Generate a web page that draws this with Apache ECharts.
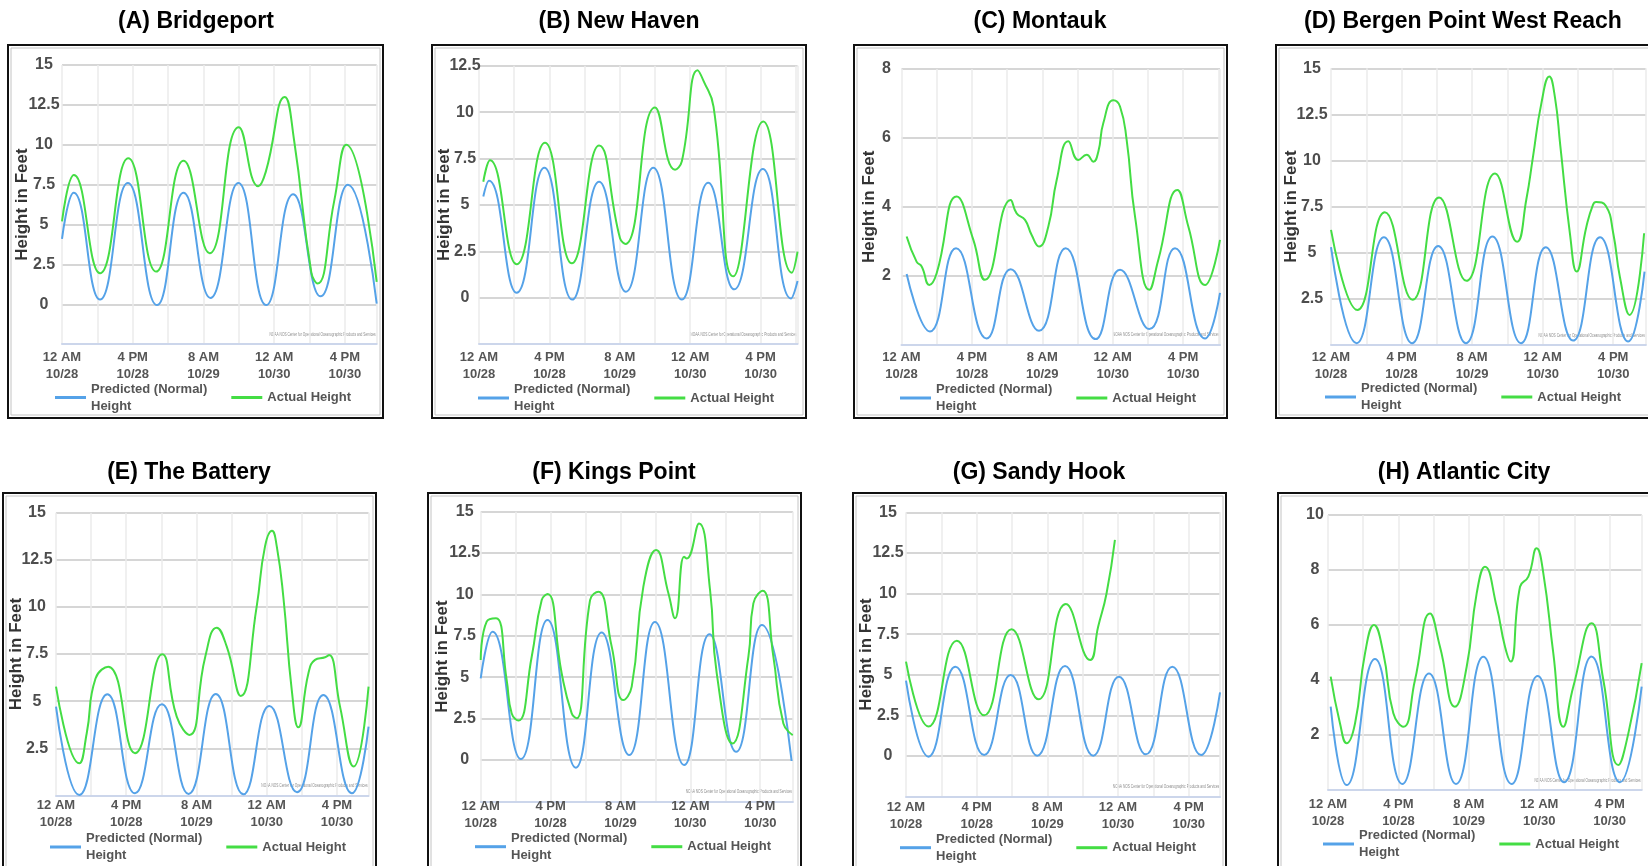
<!DOCTYPE html>
<html>
<head>
<meta charset="utf-8">
<script src="https://cdn.jsdelivr.net/npm/echarts@6/dist/echarts.min.js"></script>
<style>
html,body{margin:0;padding:0;background:#fff;}
#c{width:1648px;height:866px;}
</style>
</head>
<body>
<div id="c"></div>
<script>
// ---------------- DATA ----------------
const stationTitles = ['(A) Bridgeport', '(B) New Haven', '(C) Montauk', '(D) Bergen Point West Reach',
  '(E) The Battery', '(F) Kings Point', '(G) Sandy Hook', '(H) Atlantic City'];
const timeTickValues = [0, 16, 32, 48, 64];            // hours after 12 AM 10/28
const timeTickLabels = ['12 AM\n10/28', '4 PM\n10/28', '8 AM\n10/29', '12 AM\n10/30', '4 PM\n10/30'];
const seriesNames = ['Predicted (Normal)\nHeight', 'Actual Height'];
const yAxisTitle = 'Height in Feet';
const watermarkText = 'NOAA NOS Center for Operational Oceanographic Products and Services';

// [hours, feet]
const predictedA = [[0,4.1],[2.65,7.0],[8.6,0.3],[14.9,7.6],[21.5,-0.05],[27.5,7.0],[33.6,0.4],[39.9,7.6],[46.2,-0.05],[52.3,6.9],[58.5,0.5],[64.7,7.5],[71.2,0.05]];
const actualA = [[0,5.2],[2.7,8.1],[8.6,1.95],[15.0,9.15],[21.3,2.05],[27.5,9.0],[33.4,3.2],[40.0,11.1],[44.4,7.4],[46.1,8.3],[50.4,13.0],[52.5,10.3],[56.4,2.0],[57.8,1.3],[61.6,6.5],[64.3,10.0],[71.2,1.4]];

const predictedB = [[0.98,5.45],[2.27,6.3],[8.56,0.27],[14.85,7.0],[21.2,-0.1],[27.3,6.25],[33.4,0.32],[39.6,7.0],[46.1,-0.1],[52.1,6.2],[58.0,0.45],[64.5,6.93],[70.9,-0.04],[72.4,0.9]];
const actualB = [[0.98,6.25],[2.5,7.4],[8.56,1.8],[15.0,8.35],[21.1,1.85],[27.3,8.2],[32.05,3.2],[33.3,2.9],[40.0,10.25],[44.55,6.9],[46.1,7.35],[49.7,12.25],[51.0,11.7],[53.3,10.3],[57.8,1.15],[64.6,9.5],[71.1,1.35],[72.4,2.48]];

const predictedC = [[1.17,2.05],[6.48,0.38],[12.39,2.8],[19.36,0.18],[24.81,2.19],[31.25,0.4],[37.31,2.8],[44.13,0.16],[49.66,2.17],[56.33,0.45],[62.16,2.8],[68.98,0.18],[72.39,1.5]];
const actualC = [[1.17,3.14],[3.45,2.4],[4.58,2.27],[6.33,1.73],[7.99,2.07],[12.54,4.3],[16.33,3.04],[18.98,1.88],[24.81,4.2],[26.17,3.81],[28.07,3.62],[29.58,3.18],[31.25,2.85],[33.37,3.43],[35.27,4.78],[37.92,5.9],[40.19,5.36],[42.08,5.51],[43.6,5.31],[44.73,5.6],[45.87,6.43],[48.14,7.09],[49.66,6.91],[51.17,5.94],[53.07,3.72],[56.33,1.59],[58.37,2.46],[62.69,4.49],[65.19,3.43],[68.98,1.73],[72.39,3.04]];

const predictedD = [[0,5.3],[5.8,0.1],[12.0,5.84],[18.4,0.1],[24.3,5.37],[30.6,0.1],[36.6,5.88],[43.1,0.1],[48.7,5.3],[54.9,0.24],[61.0,5.84],[67.4,0.19],[71.1,3.98]];
const actualD = [[0,6.24],[6.0,1.9],[12.2,7.2],[18.5,2.45],[24.5,8.0],[30.7,3.48],[37.2,9.3],[42.2,5.6],[44.3,7.9],[45.8,10.2],[47.7,13.1],[49.5,14.55],[50.8,13.4],[52.0,10.8],[54.2,6.0],[55.7,3.98],[57.9,6.4],[59.4,7.6],[60.1,7.75],[62.3,7.55],[64.0,6.06],[65.5,3.7],[67.7,1.63],[71.0,6.06]];

const predictedE = [[0,4.71],[5.3,0.02],[11.7,5.37],[18.0,0.11],[24.1,4.84],[30.2,0.08],[36.4,5.38],[42.7,0.06],[48.6,4.75],[54.9,0.17],[60.9,5.33],[67.4,0.11],[71.2,3.65]];
const actualE = [[0,5.77],[5.3,1.7],[7.0,3.3],[9.0,6.2],[11.9,6.83],[18.0,2.24],[24.2,7.49],[27.5,4.18],[30.4,3.21],[34.0,7.36],[36.6,8.9],[38.9,7.89],[42.1,5.28],[45.7,10.0],[47.6,13.2],[49.2,14.04],[50.3,13.2],[51.8,10.5],[53.7,5.6],[55.2,3.61],[57.5,6.48],[59.0,7.19],[61.3,7.33],[62.2,7.45],[64.7,4.71],[67.8,1.53],[71.2,5.77]];

const predictedF = [[0,4.93],[2.7,7.75],[9.2,0.06],[15.3,8.46],[21.8,-0.46],[27.7,7.71],[34.0,0.3],[39.9,8.33],[46.6,-0.3],[52.4,7.59],[58.5,0.5],[64.4,8.15],[71.2,-0.06]];
const actualF = [[0,6.04],[1.37,8.36],[3.51,8.56],[5.95,4.83],[7.1,2.81],[8.63,2.38],[11.68,6.24],[13.97,9.66],[15.34,10.03],[18.55,5.23],[20.84,2.82],[21.98,2.52],[25.04,9.66],[26.95,10.17],[30.0,6.85],[32.67,3.62],[34.58,4.43],[37.25,10.47],[40.15,12.68],[42.98,10.07],[44.5,8.56],[46.56,12.28],[47.18,12.18],[50.0,14.29],[52.52,10.27],[54.05,5.23],[57.63,1.0],[61.3,6.24],[62.44,9.46],[64.58,10.23],[67.02,6.24],[69.31,2.21],[71.45,1.51]];

const predictedG = [[0,4.64],[5.1,-0.04],[11.2,5.5],[17.7,0.06],[23.7,4.99],[29.7,0.02],[36.0,5.54],[42.4,0.02],[48.2,4.88],[54.3,0.1],[60.3,5.5],[66.8,0.06],[71.1,3.92]];
const actualG = [[0,5.81],[5.1,1.81],[11.5,7.1],[17.7,2.5],[23.9,7.8],[30.0,3.49],[36.2,9.36],[41.7,5.91],[43.5,7.96],[45.4,10.0],[47.3,13.3]];

const predictedH = [[0.61,3.03],[4.24,0.18],[10.68,4.76],[16.89,0.22],[22.95,4.24],[29.09,0.22],[35.3,4.85],[41.74,0.22],[47.65,4.15],[53.64,0.28],[59.92,4.85],[66.36,0.28],[71.29,3.76]];
const actualH = [[0.61,4.12],[2.73,2.42],[4.24,1.7],[6.14,2.42],[8.41,4.97],[10.45,6.0],[12.58,4.97],[14.85,2.79],[17.12,2.3],[19.77,4.0],[23.18,6.42],[25.45,5.21],[28.86,3.03],[31.52,4.48],[33.79,7.15],[35.68,8.12],[38.33,6.67],[40.23,5.21],[41.52,4.67],[43.64,7.39],[45.53,7.76],[47.42,8.79],[48.94,7.88],[51.21,4.97],[53.48,2.3],[55.76,3.76],[59.92,6.06],[62.58,4.0],[65.98,0.91],[68.26,2.06],[71.29,4.61]];

const predictedSets = [predictedA, predictedB, predictedC, predictedD, predictedE, predictedF, predictedG, predictedH];
const actualSets = [actualA, actualB, actualC, actualD, actualE, actualF, actualG, actualH];

// ---------------- LAYOUT / STYLE ----------------
const FONT = '"Liberation Sans", Arial, sans-serif';
const BLUE = '#55a2e8';
const GREEN = '#44dd44';
const panelLayout = [
  {box:[8,45,375,373],   title:[196,22],  x0:62,    pxh:4.42,  xMax:71.2, top:65,    bottom:344.2, yMin:-2.5, yMax:15,   yStep:2.5, lm:18, ng:31, xm:4.6, leg:[55,397.5],  yName:true},
  {box:[432,45,374,373], title:[619,22],  x0:479,   pxh:4.4,   xMax:72.4, top:65.7,  bottom:344.1, yMin:-2.5, yMax:12.5, yStep:2.5, lm:14, ng:26, xm:4.7, leg:[478,398],   yName:true},
  {box:[854,45,373,373], title:[1040,22], x0:901.5, pxh:4.4,   xMax:72.4, top:69,    bottom:344.6, yMin:0,    yMax:8,    yStep:2,   lm:15, ng:24, xm:4.2, leg:[900,398],   yName:true},
  {box:[1276,45,390,373],title:[1463,22], x0:1331,  pxh:4.41,  xMax:71.4, top:68.3,  bottom:345,   yMin:0,    yMax:15,   yStep:2.5, lm:19, ng:31, xm:3.8, leg:[1325,397],  yName:true},
  {box:[3,493,373,390],  title:[189,473], x0:56,    pxh:4.39,  xMax:71.2, top:512.7, bottom:795.4, yMin:0,    yMax:15,   yStep:2.5, lm:19, ng:31, xm:2,   leg:[50,847],    yName:true},
  {box:[428,493,373,390],title:[614,473], x0:480.7, pxh:4.367, xMax:71.5, top:511.7, bottom:801.4, yMin:-2.5, yMax:15,   yStep:2.5, lm:16, ng:30, xm:-3,  leg:[475,846.7], yName:true},
  {box:[853,493,373,390],title:[1039,473],x0:906,   pxh:4.417, xMax:71.1, top:512.3, bottom:796.6, yMin:-2.5, yMax:15,   yStep:2.5, lm:18, ng:31, xm:2,   leg:[900,847.7], yName:true},
  {box:[1278,493,390,390],title:[1464,473],x0:1328, pxh:4.4,   xMax:71.3, top:515,   bottom:790,   yMin:0,    yMax:10,   yStep:2,   lm:13, ng:30, xm:5.8, leg:[1323,844],  yName:false}
];

const grids = [], xAxes = [], yAxes = [], series = [], legends = [], graphics = [];

panelLayout.forEach((p, i) => {
  const w = p.xMax * p.pxh;
  grids.push({left: p.x0, top: p.top, width: w, height: p.bottom - p.top, containLabel: false, outerBoundsMode: 'none'});
  xAxes.push({
    type: 'value', gridIndex: i, min: 0, max: p.xMax, interval: 8,
    axisLine: {show: true, onZero: false, lineStyle: {color: '#ccd6eb', width: 2}},
    axisTick: {show: false},
    splitLine: {show: true, lineStyle: {color: '#ebebeb', width: 1.5}},
    axisLabel: {
      formatter: v => { const k = timeTickValues.indexOf(v); return k < 0 ? '' : timeTickLabels[k]; },
      color: '#555', fontWeight: 'bold', fontSize: 13, lineHeight: 17, margin: p.xm, fontFamily: FONT
    }
  });
  yAxes.push({
    type: 'value', gridIndex: i, min: p.yMin, max: p.yMax, interval: p.yStep,
    name: p.yName ? yAxisTitle : '', nameLocation: 'middle', nameGap: p.ng, nameMoveOverlap: false,
    nameTextStyle: {color: '#333', fontWeight: 'bold', fontSize: 17, fontFamily: FONT},
    axisLine: {show: false}, axisTick: {show: false},
    splitLine: {show: true, lineStyle: {color: '#d6d6d6', width: 2}},
    axisLabel: {
      formatter: v => (v === p.yMin ? '' : String(v)),
      align: 'center', margin: p.lm, color: '#4d4d4d', fontWeight: 'bold', fontSize: 16, fontFamily: FONT
    }
  });
  series.push({
    type: 'line', name: seriesNames[0], xAxisIndex: i, yAxisIndex: i, data: predictedSets[i],
    showSymbol: false, smooth: 0.5, silent: true, clip: true,
    lineStyle: {color: BLUE, width: 2}, itemStyle: {color: BLUE}, z: 3
  });
  series.push({
    type: 'line', name: seriesNames[1], xAxisIndex: i, yAxisIndex: i, data: actualSets[i],
    showSymbol: false, smooth: 0.5, silent: true, clip: true,
    lineStyle: {color: GREEN, width: 2}, itemStyle: {color: GREEN}, z: 4
  });
  legends.push({
    data: seriesNames, left: p.leg[0], top: p.leg[1] - 17, orient: 'horizontal',
    padding: 0, itemGap: 24, itemWidth: 31, itemHeight: 3, icon: 'rect', selectedMode: false,
    textStyle: {color: '#555', fontWeight: 'bold', fontSize: 13, lineHeight: 17, fontFamily: FONT}
  });
  // panel frame
  const b = p.box;
  graphics.push({type: 'rect', silent: true, z: -10,
    shape: {x: b[0], y: b[1], width: b[2], height: b[3]},
    style: {fill: 'none', stroke: '#111', lineWidth: 2}});
  graphics.push({type: 'rect', silent: true, z: -10,
    shape: {x: b[0] + 3, y: b[1] + 3, width: b[2] - 6, height: b[3] - 6},
    style: {fill: 'none', stroke: '#c4c4c4', lineWidth: 1}});
  // title
  graphics.push({type: 'text', silent: true, x: p.title[0], y: p.title[1],
    style: {text: stationTitles[i], font: 'bold 23px ' + FONT, fill: '#000',
      align: 'center', verticalAlign: 'middle', textAlign: 'center', textVerticalAlign: 'middle'}});
  // watermark
  graphics.push({type: 'text', silent: true, x: p.x0 + w - 1, y: p.bottom - 10, scaleX: 0.54,
    style: {text: watermarkText, font: '6px ' + FONT, fill: '#8a8a8a',
      align: 'right', verticalAlign: 'middle', textAlign: 'right', textVerticalAlign: 'middle'}});
});

const chart = echarts.init(document.getElementById('c'), null, {renderer: 'canvas'});
chart.setOption({
  animation: false,
  backgroundColor: '#ffffff',
  textStyle: {fontFamily: FONT},
  grid: grids,
  xAxis: xAxes,
  yAxis: yAxes,
  legend: legends,
  series: series,
  graphic: graphics
});
</script>
</body>
</html>
